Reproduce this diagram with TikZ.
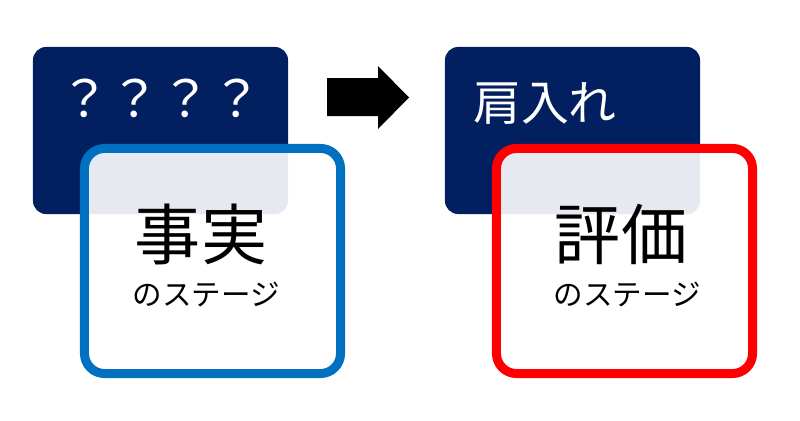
\documentclass[tikz,border=0pt]{standalone}
\usepackage{fontspec}
\setmainfont{Noto Sans CJK JP}
\definecolor{navy}{HTML}{02205F}
\definecolor{stageblue}{HTML}{0070C0}
\definecolor{stagered}{HTML}{FF0000}
\begin{document}
\begin{tikzpicture}[x=0.025cm,y=-0.025cm,
  darkbox/.style={fill=navy, rounded corners=0.33cm, minimum width=6.375cm, minimum height=4.175cm, inner sep=0, outer sep=0},
  stagebox/.style={draw=#1, line width=0.225cm, fill=white, fill opacity=0.9, draw opacity=1, rounded corners=0.5cm, minimum width=6.4cm, minimum height=5.625cm, inner sep=0, outer sep=0},
  toptext/.style={text=white, font=\fontsize{35}{35}\selectfont, inner sep=0},
  bigtext/.style={text=black, font=\fontsize{47}{47}\selectfont, inner sep=0, anchor=base},
  smalltext/.style={text=black, font=\fontsize{21}{21}\selectfont, inner sep=0, anchor=base},
  blockarrow/.style={fill=black}]
\useasboundingbox (0,0) rectangle (800,420);
% left group
\node[darkbox] (dl) at (160.5,130.5) {};
\node[stagebox=stageblue] (bl) at (212.5,261) {};
\node[toptext, anchor=base, font=\fontsize{36}{36}\selectfont] (ql) at (160.5,117) {？？？？};
\node[bigtext] (jl) at (201,259) {事実};
\node[smalltext] (sl) at (206,305) {のステージ};
% arrow
\fill[blockarrow] (327,78) -- (378,78) -- (378,66) -- (409,97.5) -- (378,129) -- (378,116) -- (327,116) -- cycle;
% right group
\node[darkbox] (dr) at (572.5,130.5) {};
\node[stagebox=stagered] (br) at (624.5,261) {};
\node[toptext, anchor=base west, font=\fontsize{34}{34}\selectfont] (qr) at (473,120) {肩入れ};
\node[bigtext] (jr) at (621,259) {評価};
\node[smalltext] (sr) at (627,305) {のステージ};
\end{tikzpicture}
\end{document}
